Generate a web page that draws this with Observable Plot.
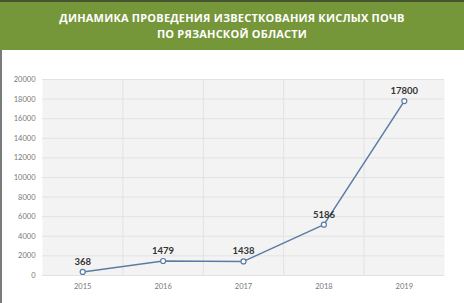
<!DOCTYPE html>
<html>
<head>
<meta charset="utf-8">
<script src="https://cdn.jsdelivr.net/npm/d3@7"></script>
<script src="https://cdn.jsdelivr.net/npm/@observablehq/plot@0.6"></script>
<style>
  html, body { margin: 0; padding: 0; background: #fff; }
  #wrap { position: relative; width: 464px; height: 303px; overflow: hidden; background: #fff; font-family: Lato, "Open Sans", sans-serif; }
  #head { position: absolute; left: 0; top: 0; width: 464px; height: 50px; background: #76963a; border-top: 2px solid #46552f; box-sizing: border-box;
    color: #fff; font-family: "Open Sans", Lato, sans-serif; font-weight: 700; font-size: 11px; line-height: 16px; text-align: center; padding-top: 8px; letter-spacing: 0.2px; }
  #edge { position: absolute; left: 0; top: 50px; width: 2px; height: 253px; background: #7a7a7a; }
  #chart { position: absolute; left: 0; top: 50px; }
</style>
</head>
<body>
<div id="wrap">
  <div id="head">ДИНАМИКА ПРОВЕДЕНИЯ ИЗВЕСТКОВАНИЯ КИСЛЫХ ПОЧВ<br>ПО РЯЗАНСКОЙ ОБЛАСТИ</div>
  <div id="chart"></div>
  <div id="edge"></div>
</div>
<script>
const years = [2015, 2016, 2017, 2018, 2019];
const values = [368, 1479, 1438, 5186, 17800];
const yTicks = [0, 2000, 4000, 6000, 8000, 10000, 12000, 14000, 16000, 18000, 20000];
const xBounds = [2015.5, 2016.5, 2017.5, 2018.5];

const data = years.map((y, i) => ({year: y, value: values[i]}));

const plot = Plot.plot({
  width: 464,
  height: 253,
  marginLeft: 42,
  marginRight: 20,
  marginTop: 29,
  marginBottom: 28,
  style: {fontFamily: "Lato, 'Open Sans', sans-serif", background: "transparent"},
  x: {domain: [2014.5, 2019.5], ticks: years, tickFormat: d => String(d), tickSize: 0, tickPadding: 8, label: null},
  y: {domain: [0, 20000], ticks: yTicks, tickFormat: d => String(d), tickSize: 0, tickPadding: 7, label: null},
  marks: [
    Plot.frame({fill: "#f3f3f3", stroke: null}),
    Plot.ruleY(yTicks, {stroke: "#e2e2e2", strokeWidth: 1}),
    Plot.ruleX(xBounds, {stroke: "#e2e2e2", strokeWidth: 1}),
    Plot.axisX({ticks: years, tickFormat: d => String(d), tickSize: 0, tickPadding: 8, fill: "#777", fontSize: 7.5, label: null}),
    Plot.axisY({ticks: yTicks, tickFormat: d => String(d), tickSize: 0, tickPadding: 7, fill: "#777", fontSize: 7.5, label: null}),
    Plot.line(data, {x: "year", y: "value", stroke: "#5a7ca4", strokeWidth: 1.5}),
    Plot.dot(data, {x: "year", y: "value", r: 2.5, fill: "#fff", stroke: "#5a7ca4", strokeWidth: 1.2}),
    Plot.text(data, {x: "year", y: "value", text: d => String(d.value), dy: -10, fill: "#333", fontWeight: "bold", fontSize: 9.5})
  ]
});
document.getElementById("chart").appendChild(plot);
</script>
</body>
</html>
